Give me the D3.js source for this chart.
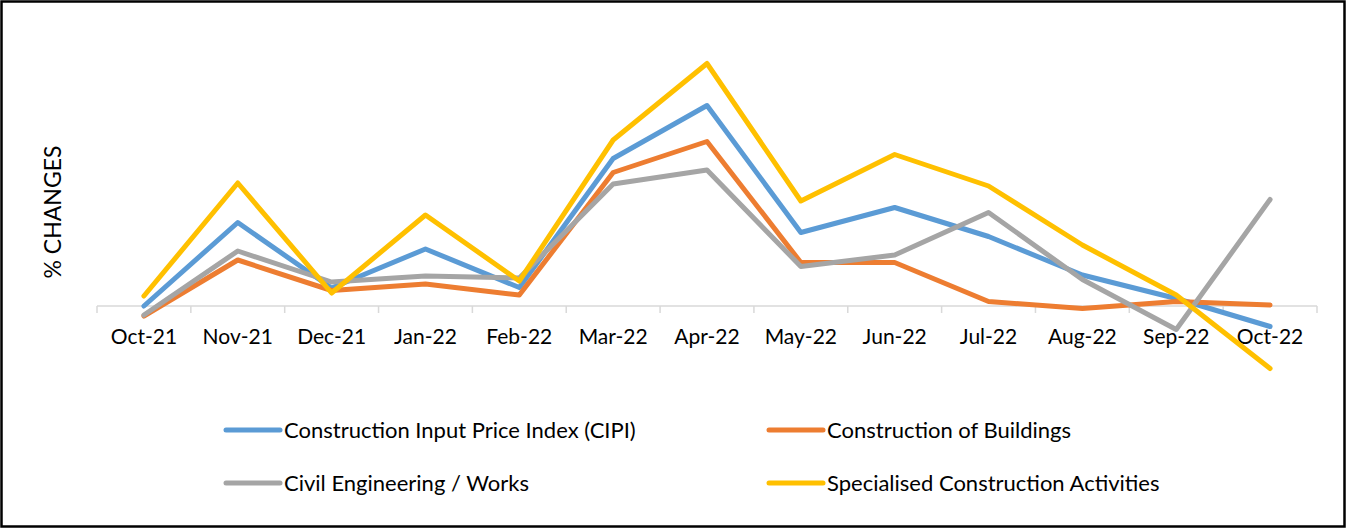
<!DOCTYPE html>
<html>
<head>
<meta charset="utf-8">
<script src="https://cdn.jsdelivr.net/npm/d3@7"></script>
<style>
  html, body { margin: 0; padding: 0; background: #fff; }
  svg { display: block; }
  text { font-family: Lato, "Open Sans", sans-serif; fill: #000; }
</style>
</head>
<body>
<div id="chart"></div>
<script>
// month labels along the x axis
var months = ["Oct-21", "Nov-21", "Dec-21", "Jan-22", "Feb-22", "Mar-22", "Apr-22",
              "May-22", "Jun-22", "Jul-22", "Aug-22", "Sep-22", "Oct-22"];

// monthly % changes (no y ticks in the original)
var cipi      = [0.00, 1.67, 0.36, 1.14, 0.37, 2.95, 4.01, 1.47, 1.97, 1.39, 0.62, 0.15, -0.41];
var buildings = [-0.20, 0.92, 0.31, 0.44, 0.22, 2.67, 3.29, 0.87, 0.87, 0.09, -0.05, 0.09, 0.02];
var civil     = [-0.18, 1.10, 0.48, 0.60, 0.56, 2.44, 2.72, 0.79, 1.02, 1.87, 0.53, -0.47, 2.13];
var special   = [0.20, 2.46, 0.26, 1.82, 0.50, 3.32, 4.85, 2.10, 3.03, 2.40, 1.22, 0.22, -1.25];

var seriesNames = ["Construction Input Price Index (CIPI)", "Construction of Buildings",
                   "Civil Engineering / Works", "Specialised Construction Activities"];
var seriesColors = ["#5B9BD5", "#ED7D31", "#A5A5A5", "#FFC000"];

var series = [
  { name: seriesNames[0], color: seriesColors[0], values: cipi },
  { name: seriesNames[1], color: seriesColors[1], values: buildings },
  { name: seriesNames[2], color: seriesColors[2], values: civil },
  { name: seriesNames[3], color: seriesColors[3], values: special }
];

var W = 1346, H = 529;

var svg = d3.select("#chart").append("svg")
    .attr("width", W)
    .attr("height", H);

svg.append("rect")
    .attr("x", 1.5).attr("y", 1.5)
    .attr("width", W - 3).attr("height", H - 4)
    .attr("fill", "#fff")
    .attr("stroke", "#000")
    .attr("stroke-width", 2.5);

var x = d3.scaleBand()
    .domain(months)
    .range([97, 1317]);

var y = d3.scaleLinear()
    .domain([-1.6, 5])
    .range([386, 56]);

// category axis sits on the zero line
var xAxis = svg.append("g")
    .attr("transform", "translate(0," + y(0) + ")");

xAxis.append("line")
    .attr("x1", x.range()[0]).attr("x2", x.range()[1])
    .attr("stroke", "#D9D9D9")
    .attr("stroke-width", 1.5);

var bounds = months.map(function(m) { return x(m); }).concat([x.range()[1]]);
xAxis.selectAll(".tick")
    .data(bounds)
    .enter().append("line")
    .attr("x1", function(d) { return d; })
    .attr("x2", function(d) { return d; })
    .attr("y1", 0).attr("y2", 7)
    .attr("stroke", "#D9D9D9")
    .attr("stroke-width", 1.5);

xAxis.selectAll(".lbl")
    .data(months)
    .enter().append("text")
    .attr("x", function(d) { return x(d) + x.bandwidth() / 2; })
    .attr("y", 38)
    .attr("text-anchor", "middle")
    .style("font-size", "21px")
    .text(function(d) { return d; });

svg.append("text")
    .attr("transform", "translate(61,212) rotate(-90)")
    .attr("text-anchor", "middle")
    .style("font-size", "23px")
    .text("% CHANGES");

var line = d3.line()
    .x(function(d, i) { return x(months[i]) + x.bandwidth() / 2; })
    .y(function(d) { return y(d); });

svg.selectAll(".series")
    .data(series)
    .enter().append("path")
    .attr("d", function(s) { return line(s.values); })
    .attr("fill", "none")
    .attr("stroke", function(s) { return s.color; })
    .attr("stroke-width", 5)
    .attr("stroke-linejoin", "round")
    .attr("stroke-linecap", "round");

// legend, two columns by two rows
var legendPos = [[226, 430], [769, 430], [226, 483], [769, 483]];
var leg = svg.selectAll(".leg")
    .data(series)
    .enter().append("g")
    .attr("transform", function(s, i) { return "translate(" + legendPos[i][0] + "," + legendPos[i][1] + ")"; });

leg.append("line")
    .attr("x1", 0).attr("x2", 54)
    .attr("stroke", function(s) { return s.color; })
    .attr("stroke-width", 5)
    .attr("stroke-linecap", "round");

leg.append("text")
    .attr("x", 58)
    .attr("y", 8)
    .style("font-size", "22px")
    .text(function(s) { return s.name; });
</script>
</body>
</html>
